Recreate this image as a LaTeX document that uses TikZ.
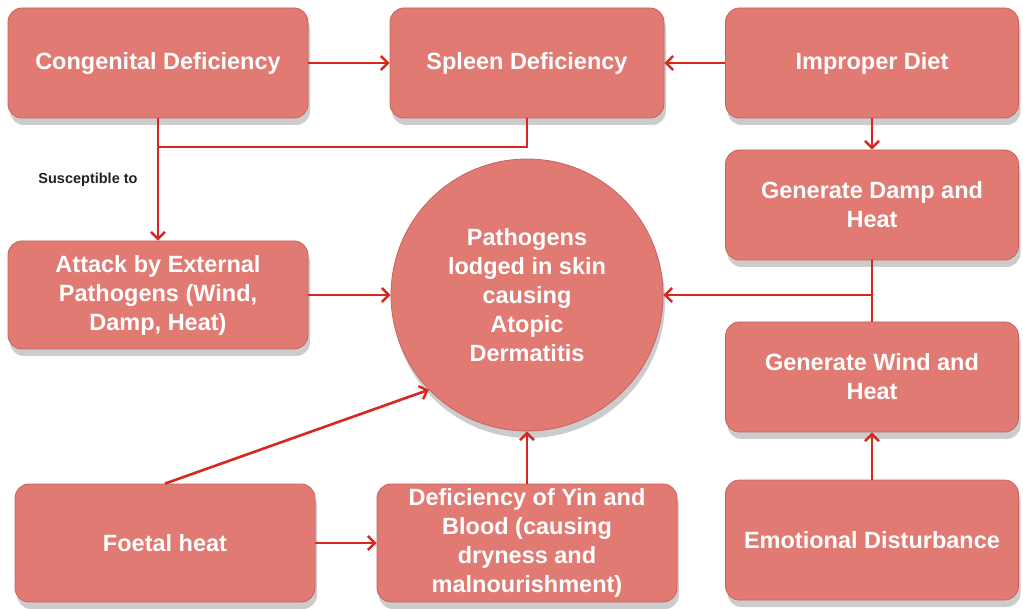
\documentclass[tikz,border=0pt]{standalone}
\usepackage{fontspec}
\setmainfont{Liberation Sans}
\usetikzlibrary{arrows.meta,shadows,positioning}
\definecolor{boxfill}{RGB}{224,122,114}
\definecolor{boxedge}{RGB}{200,98,92}
\definecolor{arrred}{RGB}{214,40,30}
\definecolor{lbl}{RGB}{34,34,34}
\tikzset{
  box/.style={draw=boxedge, line width=0.8pt, fill=boxfill, rounded corners=14pt,
    align=center, text=white, font=\fontsize{23.5}{29}\selectfont\bfseries, inner sep=0pt,
    drop shadow={shadow xshift=2pt, shadow yshift=-7pt, fill=black, opacity=0.2}},
  circbox/.style={box, circle, rounded corners=0pt},
  link/.style={draw=arrred, line width=2.6pt},
  arr/.style={link, -{Straight Barb[length=7pt,width=14pt,line width=2.4pt]}},
  lab/.style={text=lbl, font=\fontsize{14.5}{16}\selectfont\bfseries}
}
\begin{document}
\begin{tikzpicture}[x=1pt,y=-1pt]
\useasboundingbox[fill=white] (0,0) rectangle (1023,609);
\node[box, minimum width=300pt, minimum height=110pt] (cong) at (158,63) {Congenital Deficiency};
\node[box, minimum width=274pt, minimum height=110pt] (spleen) at (527,63) {Spleen Deficiency};
\node[box, minimum width=293pt, minimum height=110pt] (diet) at (872,63) {Improper Diet};
\node[box, minimum width=293pt, minimum height=110pt] (damp) at (872,205) {Generate Damp and\\Heat};
\node[box, minimum width=293pt, minimum height=110pt] (wind) at (872,377) {Generate Wind and\\Heat};
\node[box, minimum width=293pt, minimum height=120pt] (emo) at (872,540) {Emotional Disturbance};
\node[box, minimum width=300pt, minimum height=108pt] (attack) at (158,295) {Attack by External\\Pathogens (Wind,\\Damp, Heat)};
\node[circbox, minimum size=272pt] (circ) at (527,295) {Pathogens\\lodged in skin\\causing\\Atopic\\Dermatitis};
\node[box, minimum width=300pt, minimum height=118pt] (foetal) at (165,543) {Foetal heat};
\node[box, minimum width=300pt, minimum height=118pt] (defic) at (527,543) {Deficiency of Yin and\\Blood (causing\\dryness and\\malnourishment)};
\node[lab] (susc) at (88,180) {Susceptible to};
\coordinate (jl) at (158,147);
\coordinate (jr) at (872,295);
\draw[arr] (cong) -- (spleen);
\draw[arr] (diet) -- (spleen);
\draw[link] (spleen.south) |- (jl);
\draw[arr] (cong.south) -- (attack.north);
\draw[arr] (diet.south) -- (damp.north);
\draw[link] (damp.south) -- (wind.north);
\draw[arr] (jr) -- (circ.east);
\draw[arr] (attack.east) -- (circ.west);
\draw[arr] (foetal.north) -- (circ.224);
\draw[arr] (foetal.east) -- (defic.west);
\draw[arr] (defic.north) -- (circ.south);
\draw[arr] (emo.north) -- (wind.south);
\end{tikzpicture}
\end{document}
